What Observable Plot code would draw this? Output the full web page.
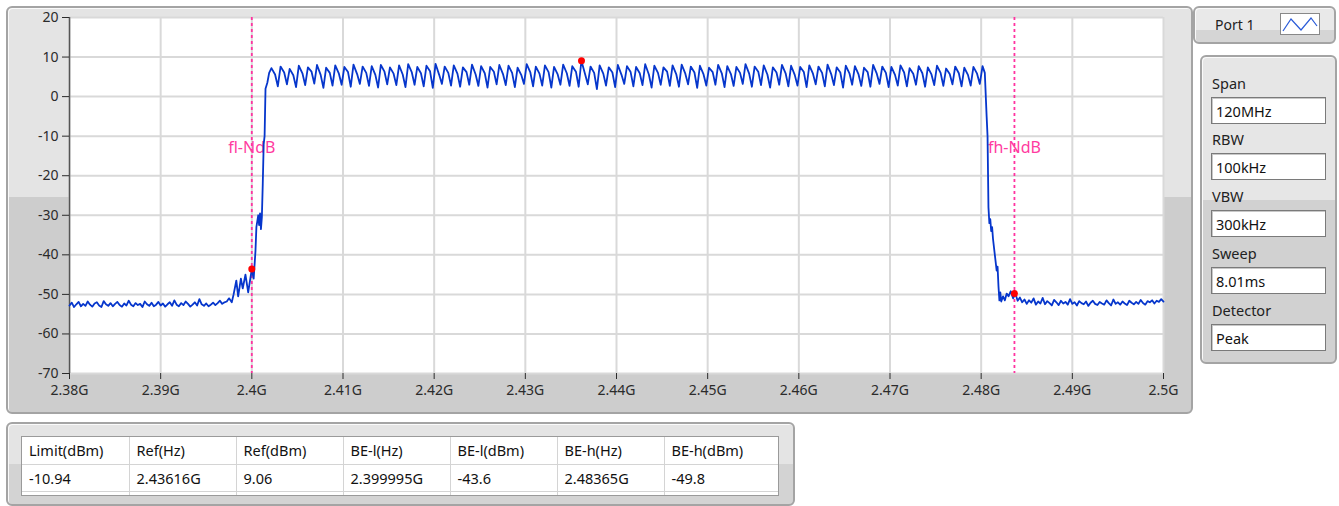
<!DOCTYPE html>
<html><head><meta charset="utf-8">
<script src="https://cdn.jsdelivr.net/npm/d3@7"></script>
<script src="https://cdn.jsdelivr.net/npm/@observablehq/plot@0.6"></script>
<style>
body{margin:0;background:#fff;font-family:"Noto Sans",sans-serif;}
#page{position:relative;width:1339px;height:506px;overflow:hidden;}
.panel{position:absolute;box-sizing:border-box;border:2px solid #a4a4a4;border-radius:6px;box-shadow:inset 1px 1px 0 #fafafa;}
#main{left:6px;top:6px;width:1187px;height:408px;background:linear-gradient(to bottom,#e4e4e4 0,#e4e4e4 189px,#cdcdcd 189px);}
#chart{position:absolute;left:0;top:0;}
#port{left:1193px;top:6px;width:143px;height:38px;background:linear-gradient(to bottom,#e9e9e9 0,#e9e9e9 22px,#d5d5d5 22px);}
#port .lbl{position:absolute;left:20px;top:7px;font-size:14px;color:#222;}
#port .icon{position:absolute;left:85px;top:5px;width:40px;height:22px;background:#fff;border:1px solid #888;box-sizing:border-box;}
#settings{left:1200px;top:55px;width:137px;height:309px;background:linear-gradient(to bottom,#e6e6e6 0,#e6e6e6 143px,#d1d1d1 143px);}
.slabel{position:absolute;left:10px;font-size:14.5px;color:#222;}
.sbox{position:absolute;left:9px;width:115px;height:27px;box-sizing:border-box;background:#fff;border:1px solid #7a7a7a;box-shadow:inset 1px 1px 0 #c8c8c8;font-size:14.5px;color:#111;padding:3px 0 0 4px;}
#tablePanel{left:6px;top:422px;width:789px;height:84px;background:linear-gradient(to bottom,#e4e4e4 0,#e4e4e4 40px,#d3d3d3 40px);}
#tbl{position:absolute;left:13px;top:12px;width:758px;height:60px;border:1px solid #9a9a9a;box-sizing:border-box;background:#fff;overflow:hidden;}
#tbl table{border-collapse:collapse;font-size:14.5px;color:#111;}
#tbl td{height:27px;padding:0 0 0 7px;box-sizing:border-box;border-right:1px solid #d4d4d4;border-bottom:1px solid #d4d4d4;white-space:nowrap;}
</style></head>
<body><div id="page">
<div id="main" class="panel"></div>
<div id="chart"></div>
<div id="port" class="panel"><div class="lbl">Port 1</div><div class="icon"><svg width="38" height="20"><polyline points="2,17 10,5 20,16 30,4 36,12" fill="none" stroke="#2a5bd8" stroke-width="1.2"/></svg></div></div>
<div id="settings" class="panel"></div>
<div id="tablePanel" class="panel"><div id="tbl"></div></div>
</div>
<script>
// ---- axis ticks ----
const xTicks = [2.38, 2.39, 2.40, 2.41, 2.42, 2.43, 2.44, 2.45, 2.46, 2.47, 2.48, 2.49, 2.50];
const yTicks = [-70, -60, -50, -40, -30, -20, -10, 0, 10, 20];

// ---- measurement table ----
const tableHeaders = ["Limit(dBm)", "Ref(Hz)", "Ref(dBm)", "BE-l(Hz)", "BE-l(dBm)", "BE-h(Hz)", "BE-h(dBm)"];
const tableValues = ["-10.94", "2.43616G", "9.06", "2.399995G", "-43.6", "2.48365G", "-49.8"];

// ---- markers (GHz, dBm) ----
const markerHz = [2.399995, 2.43616, 2.48365];
const markerDbm = [-43.6, 9.06, -49.8];
const bandEdgeHz = [2.399995, 2.48365];
const bandEdgeLabels = ["fl-NdB", "fh-NdB"];

// ---- settings panel ----
const settingLabels = ["Span", "RBW", "VBW", "Sweep", "Detector"];
const settingValues = ["120MHz", "100kHz", "300kHz", "8.01ms", "Peak"];

// ---- trace: lower noise floor, sampled every 0.25 MHz from 2.380 GHz ----
const floorLeftStart = 2.380, floorStep = 0.00025;
const floorLeft = [
-52.8,-52.1,-53.2,-52.5,-51.9,-53.0,-52.4,-52.9,-51.8,-52.6,
-53.1,-52.3,-52.0,-52.8,-53.2,-51.7,-52.5,-52.9,-52.2,-53.0,
-52.4,-51.9,-52.7,-53.1,-52.3,-52.8,-51.6,-52.6,-53.0,-52.2,
-52.7,-52.4,-53.2,-51.8,-52.5,-52.9,-52.1,-53.0,-52.6,-51.9,
-52.8,-52.3,-53.1,-52.5,-52.0,-52.9,-51.5,-52.6,-53.0,-52.2,
-52.7,-51.8,-52.4,-53.1,-52.6,-52.0,-52.8,-51.2,-52.5,-52.9,
-52.3,-53.0,-52.6,-52.1,-52.7,-52.2,-51.6,-52.4,-52.0,-51.8];

// ---- lower band edge [GHz, dBm] ----
const edgeLow = [
[2.3975,-51.0],[2.3978,-52.0],[2.3980,-50.0],[2.3983,-46.5],[2.3985,-50.5],[2.3988,-46.0],
[2.3990,-48.5],[2.3993,-45.0],[2.3996,-49.5],[2.399995,-43.6],[2.4002,-46.0],[2.4004,-39.0],
[2.4005,-33.0],[2.4007,-30.0],[2.4008,-32.5],[2.4009,-29.5],[2.4010,-33.5],[2.4011,-30.5],
[2.4012,-22.0],[2.4013,-12.0],[2.4014,-10.0],[2.4015,2.0],[2.4017,3.5],[2.4019,6.0]];

// ---- hopping channels, 1 MHz apart: peak / mid / dip level of each ripple ----
const chanStart = 2.40215, chanStep = 0.001;
const chanPeak = [
7.2,7.6,7.0,7.8,7.4,8.0,7.3,7.9,7.5,8.1,
7.6,7.7,8.0,7.4,7.9,8.2,7.5,7.8,8.3,7.6,
7.9,7.4,8.1,7.7,7.5,8.0,7.8,7.3,8.2,7.6,
7.9,7.5,8.1,7.7,9.06,7.6,7.9,7.4,8.0,7.7,
7.5,8.2,7.8,7.4,7.9,8.1,7.6,7.8,7.3,8.0,
7.7,7.5,8.2,7.6,7.9,7.4,8.0,7.8,7.5,7.9,
7.6,8.1,7.4,7.8,7.7,7.3,8.0,7.6,7.5,7.9,
7.2,7.7,7.4,7.8,7.1,7.6,7.3,7.5,7.7];
const chanMid = [
5.6,6.1,5.4,5.9,6.3,5.5,6.0,5.8,6.2,5.7,
6.0,5.5,6.3,5.8,5.6,6.1,5.9,6.4,5.5,6.0,
5.8,6.2,5.6,5.9,6.3,5.7,6.0,5.5,6.1,5.8,
6.2,5.6,5.9,6.3,5.7,6.0,5.8,6.1,5.5,6.2,
5.9,5.6,6.0,6.3,5.7,5.8,6.1,5.6,6.2,5.9,
5.7,6.0,5.8,6.3,5.6,6.1,5.9,5.5,6.2,5.8,
6.0,5.7,6.1,5.9,5.6,6.2,5.8,6.0,5.5,6.1,
5.8,5.9,5.6,6.0,5.7,5.9,5.5,5.8];
const chanDip = [
2.6,3.1,2.4,2.9,3.3,2.2,2.8,3.0,2.5,3.2,
2.7,2.3,3.1,2.9,2.4,3.0,2.6,2.2,3.2,2.8,
2.5,3.0,2.7,2.3,3.1,2.9,2.4,3.2,2.6,2.8,
2.3,3.0,2.7,2.5,3.1,1.9,2.8,2.4,3.2,2.6,
2.9,2.3,3.0,2.7,2.5,3.1,2.2,2.8,3.0,2.4,
2.7,3.2,2.5,2.9,2.3,3.0,2.6,2.8,2.4,3.1,
2.6,2.9,2.3,3.0,2.7,2.5,3.2,2.4,2.8,2.6,
3.0,2.5,2.9,2.7,3.1,2.6,2.8,3.2];

// ---- upper band edge [GHz, dBm] ----
const edgeHigh = [
[2.4804,6.0],[2.4806,-5.0],[2.4807,-10.0],[2.4808,-28.0],[2.4809,-32.0],[2.4810,-31.0],
[2.4811,-34.0],[2.4812,-33.0],[2.4813,-36.0],[2.4815,-40.0],[2.4817,-44.0],[2.4818,-43.0],
[2.4819,-48.0],[2.4820,-51.5],[2.4821,-49.5],[2.4822,-51.8],[2.4824,-50.5],[2.4826,-51.5],[2.4828,-49.8]];

// ---- upper noise floor, sampled every 0.25 MHz from 2.483 GHz ----
const floorRightStart = 2.483;
const floorRight = [
-50.5,-49.2,-51.0,-49.8,-51.6,-50.8,-52.0,-51.3,-52.4,-51.5,
-52.1,-51.0,-52.6,-51.8,-52.3,-50.9,-52.5,-51.7,-52.2,-52.8,
-51.4,-52.0,-52.7,-51.6,-52.3,-51.9,-52.6,-51.2,-52.4,-52.0,
-52.8,-51.7,-52.2,-52.5,-51.8,-52.9,-52.1,-51.6,-52.4,-52.7,
-51.9,-52.3,-52.6,-51.5,-52.2,-52.8,-51.3,-52.4,-52.0,-52.6,
-51.8,-52.3,-52.7,-51.6,-52.1,-52.5,-51.9,-52.4,-51.4,-52.2,
-52.6,-51.7,-52.0,-51.5,-52.3,-51.6,-51.9,-51.2,-51.8];

// ---- assemble trace table ----
const trace = [];
floorLeft.forEach((v, i) => trace.push({f: floorLeftStart + i * floorStep, dB: v}));
edgeLow.forEach(([f, v]) => trace.push({f, dB: v}));
chanPeak.forEach((p, k) => {
  const f0 = chanStart + k * chanStep;
  trace.push({f: f0, dB: p});
  if (k < chanMid.length) {
    trace.push({f: f0 + 0.0004, dB: chanMid[k]});
    trace.push({f: f0 + 0.0007, dB: chanDip[k]});
  }
});
edgeHigh.forEach(([f, v]) => trace.push({f, dB: v}));
floorRight.forEach((v, i) => trace.push({f: floorRightStart + i * floorStep, dB: v}));

const markers = markerHz.map((f, i) => ({f, dB: markerDbm[i]}));
const edgeLabels = bandEdgeHz.map((f, i) => ({f, t: bandEdgeLabels[i]}));

const chart = Plot.plot({
  width: 1200, height: 420,
  marginLeft: 69, marginRight: 37, marginTop: 17, marginBottom: 47,
  style: {background: "transparent", fontFamily: "'Noto Sans', sans-serif", fontSize: "14px", overflow: "visible"},
  x: {domain: [2.38, 2.5]},
  y: {domain: [-70, 20]},
  marks: [
    Plot.frame({fill: "white", stroke: "none"}),
    Plot.ruleX(xTicks, {stroke: "#d9d9d9", strokeWidth: 2}),
    Plot.ruleY(yTicks, {stroke: "#d9d9d9", strokeWidth: 2}),
    Plot.ruleX([2.38], {stroke: "#555", strokeWidth: 1.5}),
    Plot.axisX(xTicks, {tickFormat: d => d + "G", tickSize: 6, tickPadding: 6, color: "#2b2b2b", fontSize: 14, label: null}),
    Plot.axisY(yTicks, {tickFormat: d => String(d), tickSize: 7, tickPadding: 4, color: "#2b2b2b", fontSize: 14, label: null}),
    Plot.ruleX(bandEdgeHz, {stroke: "#ff33a0", strokeWidth: 1.8, strokeDasharray: "3,3"}),
    Plot.text(edgeLabels, {x: "f", y: -13, text: "t", fill: "#ff3ba0", fontSize: 16}),
    Plot.line(trace, {x: "f", y: "dB", stroke: "#0636cc", strokeWidth: 1.8}),
    Plot.dot(markers, {x: "f", y: "dB", r: 3.5, fill: "#ff0000", stroke: "none"})
  ]
});
document.getElementById("chart").appendChild(chart);

// settings panel
const sp = document.getElementById("settings");
const labelTops = [16, 72, 129, 186, 243];
settingLabels.forEach((l, i) => {
  const a = document.createElement("div"); a.className = "slabel"; a.style.top = labelTops[i] + "px"; a.textContent = l; sp.appendChild(a);
  const b = document.createElement("div"); b.className = "sbox"; b.style.top = (labelTops[i] + 24) + "px"; b.textContent = settingValues[i]; sp.appendChild(b);
});

// table
const widths = [107, 107, 107, 107, 107, 107, 114];
const tb = document.createElement("table");
[tableHeaders, tableValues, tableHeaders.map(() => "")].forEach(row => {
  const tr = document.createElement("tr");
  row.forEach((c, i) => { const td = document.createElement("td"); td.style.width = widths[i] + "px"; td.style.minWidth = widths[i] + "px"; td.textContent = c; tr.appendChild(td); });
  tb.appendChild(tr);
});
document.getElementById("tbl").appendChild(tb);
</script>
</body></html>
